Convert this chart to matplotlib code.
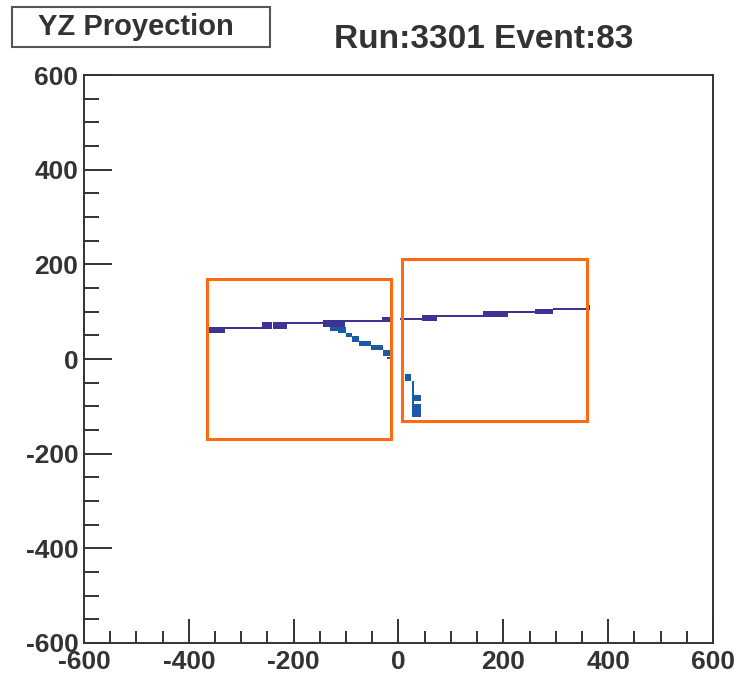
import matplotlib.pyplot as plt
from matplotlib.patches import Rectangle

plt.rcParams['axes.unicode_minus'] = False

# hit cells of the straight track: z start, z end, y bottom, y top
track_z0 = [-365, -331, -260, -239, -213, -144, -102, -32, 2, 45, 73, 161, 209, 260, 295, 360]
track_z1 = [-331, -260, -241, -213, -144, -102, -32, -16, 45, 73, 161, 209, 260, 295, 360, 365]
track_y0 = [55, 63, 64, 64, 74, 68, 78, 78, 82, 80, 89, 88, 97, 95, 103, 103]
track_y1 = [68, 68, 79, 79, 79, 83, 83, 88, 87, 92, 94, 101, 102, 106, 108, 114]

# hit cells of the bending track
bend_z0 = [-130, -115, -100, -88, -75, -52, -30, -22, 12, 26, 29, 26]
bend_z1 = [-100, -100, -88, -75, -52, -30, -15, -12, 24, 30, 43, 43]
bend_y0 = [60, 55, 46, 36, 27, 19, 6, 0, -46, -101, -89, -122]
bend_y1 = [67, 62, 56, 49, 37, 30, 18, 4, -32, -46, -76, -95]

# selection windows: z min, z max, y min, y max
box_z0 = [-365, 7]
box_z1 = [-14, 360]
box_y0 = [-169, -131]
box_y1 = [169, 211]

fig = plt.figure(figsize=(7.38, 6.74), dpi=100)
ax = fig.add_axes([0.1138, 0.046, 0.8523, 0.8427])

ax.bar(track_z0, [b - a for a, b in zip(track_y0, track_y1)],
       width=[b - a for a, b in zip(track_z0, track_z1)], bottom=track_y0,
       align='edge', color='#3d3394', edgecolor='none')
ax.bar(bend_z0, [b - a for a, b in zip(bend_y0, bend_y1)],
       width=[b - a for a, b in zip(bend_z0, bend_z1)], bottom=bend_y0,
       align='edge', color='#1b5aa6', edgecolor='none')

for z0, z1, y0, y1 in zip(box_z0, box_z1, box_y0, box_y1):
    ax.add_patch(Rectangle((z0, y0), z1 - z0, y1 - y0, fill=False,
                           edgecolor='#ff6a10', linewidth=2.2))

ax.set_xlim(-600, 600)
ax.set_ylim(-600, 600)
ax.set_xticks(range(-600, 601, 200))
ax.set_yticks(range(-600, 601, 200))
ax.set_xticks(range(-600, 601, 50), minor=True)
ax.set_yticks(range(-600, 601, 50), minor=True)
ax.tick_params(which='both', direction='in', colors='#333333', width=1.4)
ax.tick_params(axis='x', which='major', length=17, pad=5)
ax.tick_params(axis='x', which='minor', length=9)
ax.tick_params(axis='y', which='major', length=20, pad=4)
ax.tick_params(axis='y', which='minor', length=11)
for lab in ax.get_xticklabels() + ax.get_yticklabels():
    lab.set_fontfamily('Liberation Sans')
    lab.set_fontweight('bold')
    lab.set_fontsize(19)
    lab.set_color('#333333')
for s in ax.spines.values():
    s.set_color('#333333')
    s.set_linewidth(1.4)

# title box
fig.add_artist(Rectangle((12 / 738, 1 - 47 / 674), 258 / 738, 40 / 674,
                         transform=fig.transFigure, facecolor='white',
                         edgecolor='#555555', linewidth=1.5))
fig.text(136 / 738, 1 - 27 / 674, 'YZ Proyection', ha='center', va='center',
         family='Liberation Sans', weight='bold', fontsize=21, color='#333333')
fig.text(484 / 738, 1 - 40 / 674, 'Run:3301 Event:83', ha='center', va='center',
         family='Liberation Sans', weight='bold', fontsize=24, color='#333333')

fig.savefig('out.png', dpi=100)
